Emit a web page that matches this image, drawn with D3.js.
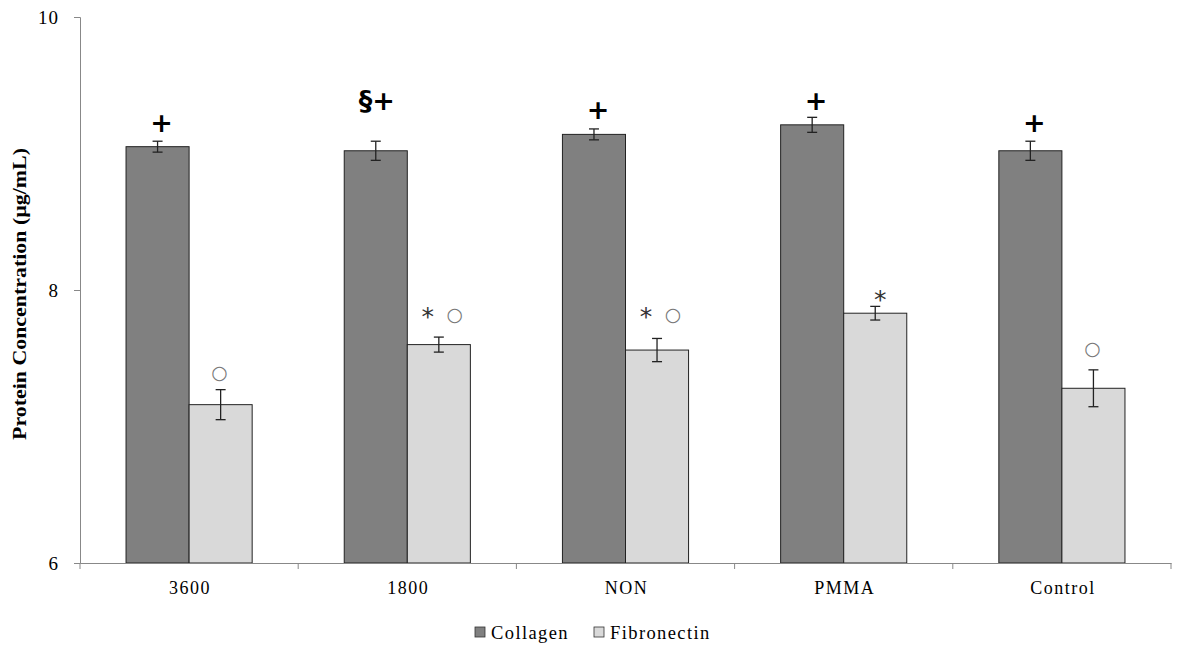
<!DOCTYPE html>
<html>
<head>
<meta charset="utf-8">
<script src="https://cdn.jsdelivr.net/npm/d3@7"></script>
<style>
  body { margin: 0; background: #fff; }
  text { font-family: "Liberation Serif", "Times New Roman", serif; }
</style>
</head>
<body>
<svg id="chart" width="1178" height="645"></svg>
<script>
// chart values
var categories = ["3600", "1800", "NON", "PMMA", "Control"];
var seriesNames = ["Collagen", "Fibronectin"];
var collagen = [9.05, 9.02, 9.14, 9.21, 9.02];
var collagenErr = [0.04, 0.07, 0.04, 0.055, 0.07];
var fibronectin = [7.16, 7.60, 7.56, 7.83, 7.28];
var fibronectinErr = [0.11, 0.055, 0.085, 0.05, 0.135];
// significance marks and the level (in µg/mL) where each one sits
var collagenMarks = ["+", "§+", "+", "+", "+"];
var collagenMarkLevel = [9.23, 9.39, 9.32, 9.39, 9.23];
var fibronectinMarks = ["○", "* ○", "* ○", "*", "○"];
var fibronectinMarkLevel = [7.40, 7.82, 7.82, 7.95, 7.57];
var yTicks = [6, 8, 10];

var svg = d3.select("#chart"),
    width = +svg.attr("width"),
    height = +svg.attr("height");

var mLeft = 80, mRight = 1171, mTop = 17, mBottom = 563;

var x = d3.scaleBand().domain(categories).range([mLeft, mRight]);
var inner = d3.scaleBand().domain(seriesNames).range([0, x.bandwidth()]).paddingInner(0).paddingOuter(0.73);
var y = d3.scaleLinear().domain([6, 10]).range([mBottom, mTop]);

var color = { "Collagen": "#808080", "Fibronectin": "#d9d9d9" };

var rows = categories.map(function (c, i) {
    return [
        { cat: c, s: "Collagen", v: collagen[i], e: collagenErr[i], m: collagenMarks[i], ml: collagenMarkLevel[i] },
        { cat: c, s: "Fibronectin", v: fibronectin[i], e: fibronectinErr[i], m: fibronectinMarks[i], ml: fibronectinMarkLevel[i] }
    ];
});
var flat = [].concat.apply([], rows);

// bars
svg.append("g").selectAll("rect")
    .data(flat)
    .enter().append("rect")
    .attr("x", function (d) { return x(d.cat) + inner(d.s); })
    .attr("y", function (d) { return y(d.v); })
    .attr("width", inner.bandwidth())
    .attr("height", function (d) { return y(6) - y(d.v); })
    .attr("fill", function (d) { return color[d.s]; })
    .attr("stroke", "#222")
    .attr("stroke-width", 1);

// error bars
var eb = svg.append("g").attr("stroke", "#222").attr("stroke-width", 1.3);
flat.forEach(function (d) {
    var cx = x(d.cat) + inner(d.s) + inner.bandwidth() / 2;
    eb.append("line").attr("x1", cx).attr("x2", cx).attr("y1", y(d.v + d.e)).attr("y2", y(d.v - d.e));
    eb.append("line").attr("x1", cx - 5).attr("x2", cx + 5).attr("y1", y(d.v + d.e)).attr("y2", y(d.v + d.e));
    eb.append("line").attr("x1", cx - 5).attr("x2", cx + 5).attr("y1", y(d.v - d.e)).attr("y2", y(d.v - d.e));
});

// significance marks
flat.forEach(function (d) {
    var cx = x(d.cat) + inner(d.s) + inner.bandwidth() / 2;
    var ty = y(d.ml);
    if (d.s === "Collagen") {
        svg.append("text")
            .attr("x", cx + (d.m.length > 1 ? 1 : 4))
            .attr("y", ty)
            .attr("dy", "0.35em")
            .attr("text-anchor", "middle")
            .style("font-family", "'DejaVu Sans', sans-serif")
            .style("font-weight", "bold")
            .style("font-size", "27px")
            .attr("fill", "#000")
            .text(d.m);
    } else {
        var parts = d.m.split(" ");
        var xs = parts.length > 1 ? [cx - 11, cx + 16] : [parts[0] === "*" ? cx + 5 : cx - 1];
        parts.forEach(function (p, j) {
            svg.append("text")
                .attr("x", xs[j])
                .attr("y", p === "*" ? ty + 2 : ty)
                .attr("dy", "0.35em")
                .attr("text-anchor", "middle")
                .style("font-family", "'DejaVu Sans', sans-serif")
                .style("font-size", p === "*" ? "25px" : "19px")
                .attr("fill", p === "*" ? "#333" : "#777")
                .text(p);
        });
    }
});

// y axis
var yAxis = svg.append("g")
    .attr("transform", "translate(" + mLeft + ",0)")
    .call(d3.axisLeft(y).tickValues(yTicks).tickSize(6).tickFormat(d3.format("d")));
yAxis.select(".domain").attr("stroke", "#888");
yAxis.selectAll(".tick line").attr("stroke", "#888");
yAxis.selectAll("text")
    .style("font-family", "'Liberation Serif', serif")
    .style("font-size", "19px").style("letter-spacing", "1px")
    .attr("fill", "#000").attr("dx", "-12");

// x axis
var xAxis = svg.append("g")
    .attr("transform", "translate(0," + mBottom + ")")
    .call(d3.axisBottom(x).tickSize(0).tickSizeOuter(0));
xAxis.select(".domain").attr("stroke", "#888");
xAxis.selectAll("text")
    .style("font-family", "'Liberation Serif', serif")
    .style("font-size", "18px").style("letter-spacing", "1.5px")
    .attr("fill", "#000").attr("dy", "1.55em").attr("dx", "1");
// boundary ticks between categories
xAxis.selectAll(".btick")
    .data(categories.concat(["end"]))
    .enter().append("line")
    .attr("class", "btick")
    .attr("x1", function (d) { return d === "end" ? mRight : x(d); })
    .attr("x2", function (d) { return d === "end" ? mRight : x(d); })
    .attr("y1", 0).attr("y2", 6)
    .attr("stroke", "#888");

// y axis title
svg.append("text")
    .attr("transform", "translate(26," + 294 + ") rotate(-90)")
    .attr("text-anchor", "middle")
    .attr("textLength", 292)
    .attr("lengthAdjust", "spacingAndGlyphs")
    .style("font-size", "18px")
    .style("font-weight", "bold")
    .text("Protein Concentration (µg/mL)");

// legend
var legend = svg.append("g").attr("transform", "translate(475,639)");
var lx = [0, 119];
seriesNames.forEach(function (s, i) {
    legend.append("rect")
        .attr("x", lx[i]).attr("y", -12)
        .attr("width", 10).attr("height", 10)
        .attr("fill", color[s]).attr("stroke", "#333").attr("stroke-width", 0.8);
    legend.append("text")
        .attr("x", lx[i] + 16).attr("y", 0)
        .style("font-size", "18.5px")
        .style("letter-spacing", "1.4px")
        .text(s);
});
</script>
</body>
</html>
